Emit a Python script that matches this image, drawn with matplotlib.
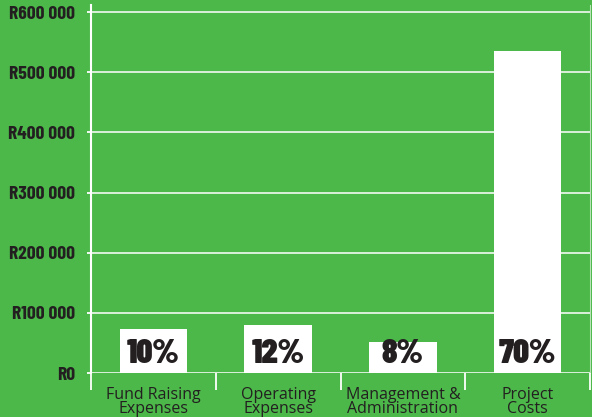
import matplotlib.pyplot as plt
from matplotlib.ticker import FuncFormatter, FixedLocator

# Data
categories = ["Fund Raising\nExpenses", "Operating\nExpenses",
              "Management &\nAdministration", "Project\nCosts"]
amounts = [74000, 79500, 51000, 536000]
percent_labels = ["10%", "12%", "8%", "70%"]
y_ticks = [0, 100000, 200000, 300000, 400000, 500000, 600000]

green = "#4cb84a"
dark = "#231f20"
narrow = ["Barlow Condensed", "DejaVu Sans"]

fig = plt.figure(figsize=(5.92, 4.17), dpi=100, facecolor=green)
ax = fig.add_axes([91 / 592, 1 - 373 / 417, 499 / 592, 368 / 417])
ax.set_facecolor(green)

x = range(len(categories))
ax.bar(x, amounts, width=0.54, color="white", zorder=3)

for i, lab in enumerate(percent_labels):
    ax.text(i, 16000, lab, ha="center", va="baseline", color=dark,
            fontsize=25, fontweight=900, family=narrow, zorder=4)

ax.set_xlim(-0.5, 3.5)
ax.set_ylim(0, 612000)

ax.set_yticks(y_ticks)
ax.yaxis.set_major_formatter(FuncFormatter(
    lambda v, p: "R" + format(int(v), ",").replace(",", " ")))
ax.grid(axis="y", color="white", alpha=0.85, linewidth=1.3, zorder=1)

ax.set_xticks(list(x))
ax.set_xticklabels(categories, fontsize=11.5, color=dark, family="Open Sans",
                   linespacing=0.85)
ax.xaxis.set_minor_locator(FixedLocator([-0.5, 0.5, 1.5, 2.5, 3.5]))
ax.tick_params(axis="x", which="major", length=0, pad=10)
ax.tick_params(axis="x", which="minor", length=12, width=1.3, color="white")
ax.tick_params(axis="y", length=3, width=1.3, color="white", pad=8.5,
               labelcolor=dark)
for t in ax.get_yticklabels():
    t.set_family(narrow)
    t.set_fontweight("bold")
    t.set_fontsize(14)

for s in ["top", "bottom"]:
    ax.spines[s].set_visible(False)
ax.spines["left"].set_color("white")
ax.spines["left"].set_linewidth(1.5)
ax.spines["right"].set_color("white")
ax.spines["right"].set_alpha(0.6)

fig.savefig("out.png", dpi=100, facecolor=green)
